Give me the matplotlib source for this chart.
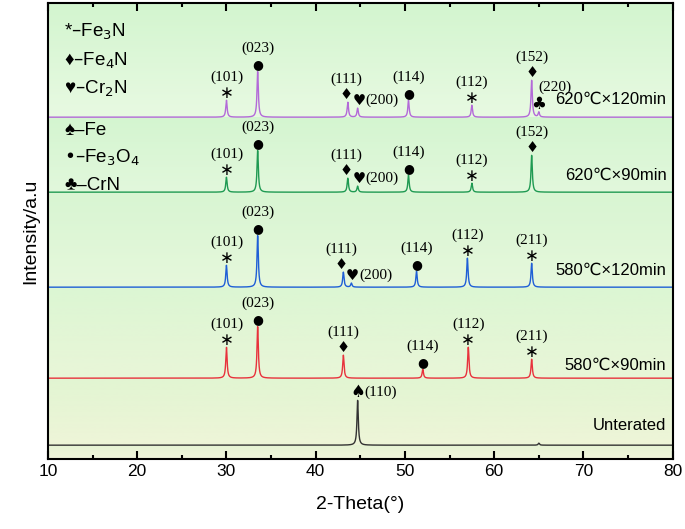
import numpy as np
import matplotlib
matplotlib.use("Agg")
import matplotlib.pyplot as plt

# ---- data (y in arbitrary units) ----
samples = ["Unterated", "580℃×90min", "580℃×120min", "620℃×90min", "620℃×120min"]
colors = ["#333333", "#e8323c", "#1f5fd6", "#1f9a52", "#b36ad8"]
baselines = [14, 81, 172, 267, 342]
peak_pos = [
    [44.7, 65.0],
    [30.0, 33.5, 43.1, 52.0, 57.1, 64.2],
    [30.0, 33.5, 43.1, 44.0, 51.3, 57.0, 64.2],
    [30.0, 33.5, 43.6, 44.7, 50.4, 57.5, 64.2],
    [30.0, 33.5, 43.6, 44.7, 50.4, 57.5, 64.2, 65.0],
]
peak_h = [
    [45, 2],
    [31, 52, 23, 9, 31, 19],
    [22, 52, 15, 4, 16, 29, 24],
    [15, 42, 14, 6, 17, 9, 37],
    [17, 46, 15, 9, 17, 12, 37, 5],
]
annos = [
    [(44.7, "♠", "(110)", "right")],
    [(30.0, "*", "(101)", "top"), (33.5, "●", "(023)", "top"), (43.1, "♦", "(111)", "top"),
     (52.0, "●", "(114)", "top"), (57.1, "*", "(112)", "top"), (64.2, "*", "(211)", "top")],
    [(30.0, "*", "(101)", "top"), (33.5, "●", "(023)", "top"), (43.1, "♦", "(111)", "top"),
     (44.0, "♥", "(200)", "right"), (51.3, "●", "(114)", "top"), (57.0, "*", "(112)", "top"),
     (64.2, "*", "(211)", "top")],
    [(30.0, "*", "(101)", "top"), (33.5, "●", "(023)", "top"), (43.6, "♦", "(111)", "top"),
     (44.7, "♥", "(200)", "right"), (50.4, "●", "(114)", "top"), (57.5, "*", "(112)", "top"),
     (64.2, "♦", "(152)", "top")],
    [(30.0, "*", "(101)", "top"), (33.5, "●", "(023)", "top"), (43.6, "♦", "(111)", "top"),
     (44.7, "♥", "(200)", "right"), (50.4, "●", "(114)", "top"), (57.5, "*", "(112)", "top"),
     (64.2, "♦", "(152)", "top"), (65.0, "♣", "(220)", "club")],
]
label_y = [34, 94, 189, 284, 360]
legend_items = ["*–Fe$_3$N", "♦–Fe$_4$N", "♥–Cr$_2$N", "♠–Fe", "•–Fe$_3$O$_4$", "♣–CrN"]
legend_y = [427, 398, 370, 329, 301, 274]

sans = ["Liberation Sans", "DejaVu Sans"]
serif = ["Liberation Serif", "DejaVu Serif"]
sym_font = ["DejaVu Sans"]

fig = plt.figure(figsize=(6.85, 5.29), dpi=100)
ax = fig.add_axes([0.070, 0.132, 0.912, 0.862])
ax.set_xlim(10, 80)
ax.set_ylim(0, 456)

edges = [0] + baselines + [456]
band_cols = [("#f0f5dc", "#e6f3d3"), ("#eef5d8", "#e2f5d2"), ("#e9f6d8", "#dcf6d3"),
             ("#e6f8dc", "#d8f5d2"), ("#e2f8dc", "#d4f5d0"), ("#e8fae2", "#d3f5cf")]
for i in range(len(edges) - 1):
    c0 = np.array(matplotlib.colors.to_rgb(band_cols[i][0]))
    c1 = np.array(matplotlib.colors.to_rgb(band_cols[i][1]))
    t = np.linspace(0, 1, 50)[:, None]
    img = (c0 * (1 - t) + c1 * t)[:, None, :]
    ax.imshow(img, extent=[10, 80, edges[i], edges[i + 1]], aspect="auto",
              origin="lower", zorder=0, interpolation="bilinear")

x = np.linspace(10, 80, 4000)
w = 0.09
for b, pp, hh, c in zip(baselines, peak_pos, peak_h, colors):
    y = np.full_like(x, float(b))
    for p, h in zip(pp, hh):
        y += h / (1 + ((x - p) / w) ** 2)
    ax.plot(x, y, color=c, lw=1.0, zorder=2)

for b, pp, hh, an in zip(baselines, peak_pos, peak_h, annos):
    has_heart = any(a[1] == "♥" for a in an)
    for px, sym, lab, style in an:
        h = hh[pp.index(px)]
        top = b + h
        sx = px
        if sym == "♦" and has_heart and px < 45:
            sx = px - 0.2
        if sym == "♥":
            sx = px + 0.15
        if sym == "*":
            ax.text(sx, top + 7, "∗", ha="center", va="center", fontsize=12, family=sym_font, zorder=3)
        elif sym == "●":
            ax.text(sx, top + 7, "●", ha="center", va="center", fontsize=9, family=sym_font, zorder=3)
        else:
            ax.text(sx, top + 8, sym, ha="center", va="center",
                    fontsize=10.5 if sym in "♥♦" else 12, family=sym_font, zorder=3)
        if style == "top":
            ax.text(sx, top + 16, lab, ha="center", va="bottom", fontsize=11, family=serif, zorder=3)
        elif style == "right":
            ax.text(sx + 0.75, top + 8, lab, ha="left", va="center", fontsize=11, family=serif, zorder=3)
        elif style == "club":
            ax.text(px - 0.1, top + 25, lab, ha="left", va="center", fontsize=11, family=serif, zorder=3)

for s, ly in zip(samples, label_y):
    ax.text(79.3, ly, s, ha="right", va="center", fontsize=12, family=sans, zorder=3)

for t, ly in zip(legend_items, legend_y):
    ax.text(11.8, ly, t, ha="left", va="center", fontsize=13.5, family=sans, zorder=3)

ax.set_yticks([])
ax.set_xticks(np.arange(10, 81, 10))
ax.set_xticks(np.arange(15, 80, 10), minor=True)
ax.tick_params(axis="x", which="both", direction="in", top=True, width=1.5, labelsize=12.5)
ax.tick_params(axis="x", which="major", length=6)
ax.tick_params(axis="x", which="minor", length=3)
for lbl in ax.get_xticklabels():
    lbl.set_family(sans)
for sp in ax.spines.values():
    sp.set_linewidth(1.5)
ax.set_xlabel("2-Theta(°)", fontsize=14, family=sans, labelpad=12)
ax.set_ylabel("Intensity/a.u", fontsize=14, family=sans, labelpad=6)

fig.savefig("out.png", dpi=100)
